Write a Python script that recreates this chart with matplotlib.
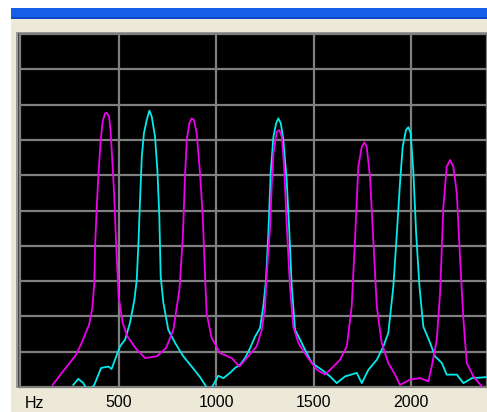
import matplotlib
matplotlib.use("Agg")
import matplotlib.pyplot as plt
from matplotlib.patches import Rectangle

# ── Data (Hz, level in grid units 0-100) ────────────────────────────────────

MAGENTA_HZ = [159, 206, 279, 308, 346, 363, 373, 377, 385, 394, 406, 416, 428, 437,
              449, 457, 474, 485, 498, 519, 543, 591, 634, 694, 741, 779, 810, 827,
              839, 848, 861, 873, 885, 899, 916, 930, 942, 950, 976, 1019, 1079, 1118,
              1164, 1207, 1233, 1250, 1259, 1276, 1284, 1293, 1310, 1323, 1336, 1348,
              1361, 1378, 1395, 1421, 1464, 1516, 1558, 1601, 1635, 1670, 1695, 1712,
              1729, 1747, 1760, 1772, 1789, 1806, 1824, 1849, 1883, 1918, 1943, 1995,
              2046, 2089, 2106, 2132, 2149, 2166, 2183, 2200, 2217, 2235, 2252, 2269,
              2286, 2320, 2363, 2400]
MAGENTA_LVL = [0.6, 4.0, 9.1, 12.5, 17.6, 22.4, 29.4, 39.8, 50.2, 60.1, 70.0, 75.2, 77.5, 77.7,
               76.6, 72.3, 55.8, 40.8, 25.6, 18.1, 14.3, 10.6, 8.2, 8.7, 11.0, 16.2, 27.5, 41.7,
               59.6, 70.0, 74.7, 76.1, 75.6, 71.9, 60.6, 48.3, 31.3, 20.9, 13.9, 9.6, 8.2, 5.8,
               8.7, 11.5, 16.2, 22.8, 32.3, 45.4, 56.8, 66.2, 72.3, 72.8, 70.9, 62.4,
               46.4, 28.5, 17.1, 12.5, 8.7, 4.9, 3.5, 5.8, 7.7, 11.5, 22.8, 41.7,
               62.4, 68.1, 69.3, 68.1, 59.6, 41.7, 22.8, 12.5, 6.8, 3.5, 0.6, 2.1,
               2.5, 1.6, 5.8, 13.4, 26.6, 51.1, 62.4, 64.3, 62.4, 54.9, 36.0, 19.0,
               6.8, 3.0, 0.2, -2.0]

CYAN_HZ = [265, 291, 317, 340, 373, 408, 445, 462, 479, 505, 531, 556, 579, 591, 599,
           608, 617, 628, 642, 656, 668, 685, 697, 707, 714, 728, 753, 788, 830, 873,
           916, 942, 962, 984, 1010, 1036, 1070, 1096, 1122, 1147, 1173, 1199, 1224,
           1241, 1255, 1267, 1279, 1293, 1307, 1318, 1331, 1344, 1361, 1375, 1387,
           1404, 1430, 1455, 1490, 1541, 1584, 1618, 1661, 1721, 1747, 1781, 1824,
           1858, 1883, 1909, 1927, 1943, 1957, 1974, 1986, 1998, 2012, 2026, 2043,
           2063, 2098, 2123, 2158, 2183, 2235, 2269, 2312, 2390]
CYAN_LVL = [0.6, 2.3, 1.1, -1.3, 0.6, 5.4, 5.8, 5.1, 7.7, 11.5, 13.4, 18.1, 24.7, 30.4, 39.8,
            53.0, 65.3, 71.9, 75.6, 78.3, 76.6, 70.9, 61.5, 48.3, 31.3, 23.8, 16.2, 12.5, 8.7, 5.8,
            2.8, 0.6, -1.3, 0.6, 3.2, 2.5, 4.0, 5.4, 6.3, 8.2, 11.0, 14.3, 16.7,
            22.8, 30.4, 43.6, 60.6, 70.9, 74.7, 76.1, 74.7, 70.0, 58.7, 43.6, 28.5,
            16.2, 13.4, 10.6, 6.8, 4.9, 3.0, 1.1, 3.0, 4.0, 1.1, 4.9, 7.7,
            11.5, 15.3, 28.5, 43.6, 57.7, 68.1, 72.8, 73.6, 71.9, 60.6, 43.6, 28.5,
            17.1, 12.5, 8.7, 6.8, 3.5, 3.5, 1.1, 2.5, 2.8]

X_TICKS = [500, 1000, 1500, 2000]
X_LABELS = ["500", "1000", "1500", "2000"]
Y_GRID = [10, 20, 30, 40, 50, 60, 70, 80, 90]

# ── Figure ──────────────────────────────────────────────────────────────────

W, H = 487, 412
BEIGE = "#ece9d8"
GRID = "#7f7f7f"


def px_rect(x, y, w, h, **kw):
    """Rectangle given in screenshot pixels (origin top-left)."""
    return Rectangle((x / W, 1 - (y + h) / H), w / W, h / H,
                     transform=fig.transFigure, zorder=-10, **kw)


fig = plt.figure(figsize=(W / 100, H / 100), dpi=100, facecolor=BEIGE)

# window chrome
fig.add_artist(px_rect(0, 0, W, 8, facecolor="white", edgecolor="none"))
fig.add_artist(px_rect(0, 0, 11, H, facecolor="white", edgecolor="none"))
fig.add_artist(px_rect(11, 8, W - 11, 11, facecolor="#1660e8", edgecolor="none"))
fig.add_artist(px_rect(11, 17, W - 11, 2, facecolor="#0a46c8", edgecolor="none"))
# sunken frame around the scope
fig.add_artist(px_rect(16, 32, W - 16, 356, facecolor="#9a9a9a", edgecolor="none"))
fig.add_artist(px_rect(18, 33, W - 18, 354, facecolor="#404040", edgecolor="none"))

ax = fig.add_axes([20 / W, (H - 387) / H, (W - 20) / W, (387 - 34) / H])
ax.set_facecolor("black")
ax.set_xlim(-8.6, 2390)
ax.set_ylim(0, 100)

for x in X_TICKS:
    ax.axvline(x, color=GRID, lw=1.6, zorder=1)
for y in Y_GRID:
    ax.axhline(y, color=GRID, lw=1.6, zorder=1)

ax.plot(CYAN_HZ, CYAN_LVL, color="#00ecec", lw=1.3, zorder=3)
ax.plot(MAGENTA_HZ, MAGENTA_LVL, color="#ee00ee", lw=1.3, zorder=4)

for s in ax.spines.values():
    s.set_color(GRID)
    s.set_linewidth(1.6)

ax.set_yticks([])
ax.set_xticks(X_TICKS)
ax.set_xticklabels(X_LABELS, fontsize=11.5, family="Liberation Sans", color="black")
ax.tick_params(axis="x", length=0, pad=6)
ax.text(63, -0.046, "Hz", transform=ax.get_xaxis_transform(), ha="center", va="center",
        fontsize=11.5, family="Liberation Sans", color="black")

fig.savefig("out.png", dpi=100, facecolor=BEIGE)
